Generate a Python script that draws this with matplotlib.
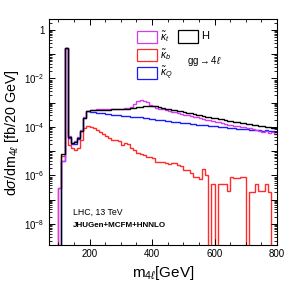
import numpy as np
import matplotlib
matplotlib.use("Agg")
import matplotlib.pyplot as plt
from matplotlib.patches import Rectangle
from matplotlib.ticker import LogLocator, FuncFormatter, MultipleLocator, NullFormatter

plt.rcParams['font.family'] = ['Liberation Sans', 'DejaVu Sans']
plt.rcParams['mathtext.fontset'] = 'custom'
plt.rcParams['mathtext.rm'] = 'Liberation Sans'
plt.rcParams['mathtext.it'] = 'Liberation Sans:italic'

# 10 GeV bins from 70 to 800 GeV, values as log10(dsigma)
# (-20 = empty bin, drops below the axis)
edges = np.arange(70, 801, 10)

H_exp = [-20, -20, -20, -20, -5.1, -0.74, -4.4, -4.67, -4.62, -4.45,
         -4.15, -3.62, -3.35, -3.31, -3.31, -3.30, -3.30, -3.30, -3.29, -3.29,
         -3.28, -3.28, -3.27, -3.27, -3.26, -3.25, -3.23, -3.21, -3.19, -3.17,
         -3.15, -3.14, -3.13, -3.13, -3.15, -3.18, -3.21, -3.24, -3.27, -3.29,
         -3.31, -3.34, -3.36, -3.39, -3.41, -3.44, -3.47, -3.49, -3.52, -3.55,
         -3.57, -3.60, -3.62, -3.65, -3.67, -3.69, -3.72, -3.74, -3.76, -3.78,
         -3.81, -3.83, -3.85, -3.87, -3.89, -3.91, -3.93, -3.95, -3.97, -3.99,
         -4.01, -4.03, -4.05]

kt_exp = [-20, -20, -20, -6.5, -5.4, -0.74, -4.37, -4.65, -4.6, -4.43,
          -4.12, -3.6, -3.33, -3.30, -3.29, -3.28, -3.28, -3.27, -3.27, -3.26,
          -3.26, -3.25, -3.25, -3.24, -3.23, -3.21, -3.17, -3.05, -2.93, -2.89,
          -2.92, -2.99, -3.08, -3.15, -3.20, -3.24, -3.28, -3.31, -3.35, -3.37,
          -3.40, -3.43, -3.46, -3.49, -3.52, -3.55, -3.58, -3.61, -3.64, -3.67,
          -3.70, -3.72, -3.75, -3.78, -3.81, -3.84, -3.87, -3.90, -3.92, -3.95,
          -3.97, -4.00, -4.02, -4.05, -4.06, -4.10, -4.12, -4.18, -4.22, -4.16,
          -4.25, -4.20, -4.28]

kb_exp = [-20, -20, -20, -6.5, -5.2, -0.74, -4.75, -4.85, -4.95, -4.85,
          -4.54, -4.05, -3.96, -4.0, -4.05, -4.12, -4.2, -4.3, -4.38, -4.47,
          -4.54, -4.54, -4.6, -4.74, -4.67, -4.7, -4.88, -4.95, -5.08, -5.1,
          -5.15, -5.22, -5.22, -5.3, -5.43, -5.43, -5.45, -5.5, -5.54, -5.5,
          -5.5, -5.58, -5.62, -5.77, -5.77, -5.9, -6.05, -6.05, -6.15, -5.74,
          -6.0, -20, -6.36, -20, -6.36, -6.36, -6.36, -6.64, -6.05, -6.12,
          -6.12, -6.07, -6.07, -20, -6.7, -6.7, -6.36, -6.64, -6.64, -6.36,
          -6.7, -20, -20]

kQ_exp = [-20, -20, -20, -20, -5.4, -0.74, -4.45, -4.72, -4.7, -4.48,
          -4.15, -3.62, -3.36, -3.38, -3.40, -3.41, -3.43, -3.44, -3.46, -3.47,
          -3.49, -3.50, -3.51, -3.53, -3.54, -3.55, -3.57, -3.58, -3.60, -3.61,
          -3.63, -3.64, -3.66, -3.68, -3.70, -3.72, -3.73, -3.75, -3.76, -3.78,
          -3.79, -3.81, -3.82, -3.84, -3.85, -3.87, -3.88, -3.90, -3.91, -3.93,
          -3.94, -3.95, -3.97, -3.98, -3.99, -4.01, -4.02, -4.03, -4.04, -4.06,
          -4.07, -4.08, -4.09, -4.10, -4.11, -4.12, -4.13, -4.12, -4.15, -4.14,
          -4.18, -4.16, -4.20]

labels = [r'$\tilde{\kappa}_{t}$', r'$\tilde{\kappa}_{b}$', r'$\tilde{\kappa}_{Q}$']
colors = ['#d23cf0', '#ff2a2a', '#1a1aff']

fig = plt.figure(figsize=(2.91, 2.82), dpi=100)
ax = fig.add_axes([0.168, 0.131, 0.784, 0.80])

for exps, c in [(kb_exp, colors[1]), (kQ_exp, colors[2]), (kt_exp, colors[0]), (H_exp, 'black')]:
    ax.stairs(10.0 ** np.array(exps), edges, baseline=None, color=c, lw=1.0)

ax.set_yscale('log')
ax.set_xlim(70, 800)
ax.set_ylim(1.35e-9, 2.7)

ax.yaxis.set_major_locator(LogLocator(base=10, numticks=30))
ax.yaxis.set_minor_locator(LogLocator(base=10, subs=np.arange(2, 10), numticks=30))
ax.yaxis.set_minor_formatter(NullFormatter())

def fmt(v, pos):
    e = int(round(np.log10(v)))
    if e % 2 != 0:
        return ''
    if e == 0:
        return '1'
    return r'$10^{%d}$' % e

ax.yaxis.set_major_formatter(FuncFormatter(fmt))
ax.xaxis.set_major_locator(MultipleLocator(200))
ax.xaxis.set_minor_locator(MultipleLocator(50))

ax.tick_params(which='both', direction='in', top=True, right=True, labelsize=7)
ax.tick_params(which='major', length=4.3, width=0.7)
ax.tick_params(which='minor', length=2.2, width=0.6)
ax.tick_params(axis='x', pad=3)
ax.tick_params(axis='y', pad=3)

ax.set_xlabel(r'm$_{4\ell}$[GeV]', fontsize=11, labelpad=1)
ax.xaxis.set_label_coords(0.5, -0.085)
ax.set_ylabel(r'd$\sigma$/dm$_{4\ell}$ [fb/20 GeV]', fontsize=10.3, labelpad=2)

# legend drawn by hand (boxes + labels)
box_w, box_h = 0.088, 0.057
for i, (lab, c) in enumerate(zip(labels, colors)):
    y0 = 0.894 - i * 0.08
    ax.add_patch(Rectangle((0.386, y0), box_w, box_h, transform=ax.transAxes,
                           facecolor='white', edgecolor=c, lw=0.9))
    ax.text(0.488, y0 + box_h / 2, lab, transform=ax.transAxes, fontsize=7.5,
            va='center', ha='left')
ax.add_patch(Rectangle((0.566, 0.896), box_w, box_h, transform=ax.transAxes,
                       facecolor='white', edgecolor='black', lw=0.9))
ax.text(0.668, 0.896 + box_h / 2, 'H', transform=ax.transAxes, fontsize=8,
        va='center', ha='left')
ax.text(0.682, 0.816, r'gg$\rightarrow$4$\ell$', transform=ax.transAxes,
        fontsize=7, va='center', ha='center')

ax.text(0.105, 0.144, 'LHC, 13 TeV', transform=ax.transAxes, fontsize=6.3,
        va='center', ha='left')
ax.text(0.105, 0.086, 'JHUGen+MCFM+HNNLO', transform=ax.transAxes, fontsize=5.8,
        fontweight='bold', va='center', ha='left')

fig.savefig('out.png', dpi=100)
